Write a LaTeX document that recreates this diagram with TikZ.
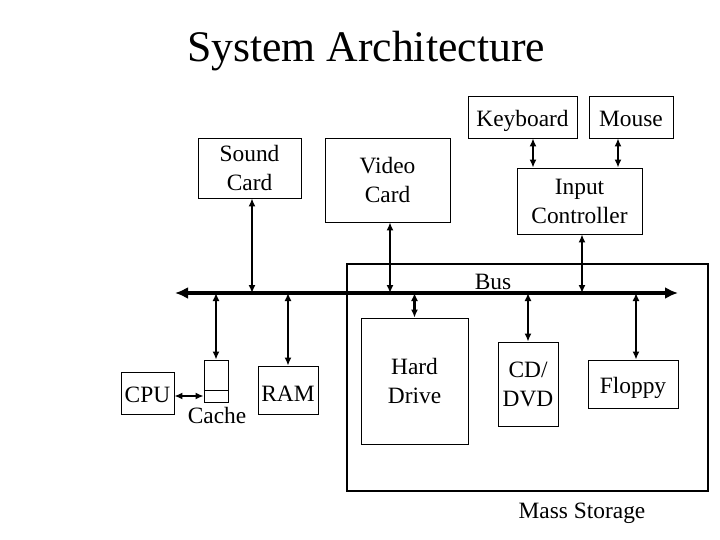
\documentclass[tikz,border=0pt]{standalone}
\usepackage{fontspec}
\setmainfont{Liberation Serif}
\usetikzlibrary{arrows.meta}

\begin{document}
\begin{tikzpicture}[x=1pt,y=-1pt,>={Latex[length=8pt,width=7pt]}]
    \tikzset{
        unit/.style={draw,line width=0.8pt,inner sep=0pt,align=center,font=\fontsize{23.4}{29}\selectfont},
        oneline/.style={text height=19pt,text depth=0pt},
        lbl/.style={font=\fontsize{23.4}{29}\selectfont,inner sep=0pt},
        link/.style={<->,line width=2.4pt},
        busline/.style={{Latex[length=13pt,width=12pt]}-{Latex[length=13pt,width=12pt]},line width=4.5pt}
    }
    \useasboundingbox (0,0) rectangle (720,540);

    \node[font=\fontsize{43.7}{50}\selectfont,anchor=base] (title) at (366,62) {System Architecture};

    % input side
    \node[unit,oneline,minimum width=109pt,minimum height=42pt] (kbd) at (522.5,117) {Keyboard};
    \node[unit,oneline,minimum width=84pt,minimum height=42pt] (mouse) at (631,117) {Mouse};
    \node[unit,minimum width=125pt,minimum height=66pt] (ictl) at (579.5,201) {Input\\Controller};
    \node[unit,minimum width=125pt,minimum height=84pt] (video) at (387.5,180) {Video\\Card};
    \node[unit,minimum width=103pt,minimum height=60pt] (sound) at (249.5,168) {Sound\\Card};

    % mass storage
    \node[draw,line width=2pt,minimum width=361pt,minimum height=227pt,inner sep=0pt] (ms) at (527.5,377.5) {};
    \node[lbl] (mslbl) at (582,513) {Mass Storage};
    \node[unit,minimum width=107pt,minimum height=126pt] (hd) at (414.5,381) {Hard\\Drive};
    \node[unit,minimum width=60pt,minimum height=84pt] (cd) at (528,384) {CD/\\DVD};
    \node[unit,oneline,minimum width=90pt,minimum height=48pt] (floppy) at (633,384) {Floppy};

    % processor and memory
    \node[unit,oneline,minimum width=53pt,minimum height=42pt] (cpu) at (147.5,393) {CPU};
    \node[unit,minimum width=24pt,minimum height=42pt] (cache) at (216,381) {};
    \draw[line width=0.8pt] (cache.west |- 0,390) -- (cache.east |- 0,390);
    \node[lbl] (cachelbl) at (217,415) {Cache};
    \node[unit,oneline,minimum width=60pt,minimum height=48pt,text height=22pt] (ram) at (288,390) {RAM};

    % bus
    \coordinate (busL) at (175,293);
    \coordinate (busR) at (678,293);
    \draw[busline] (busL) -- (busR);
    \node[lbl] (buslbl) at (493,282) {Bus};

    \draw[link] ([xshift=2.5pt]sound.south) -- ([xshift=2.5pt]sound.south |- busL);
    \draw[link] ([xshift=2.5pt]video.south) -- ([xshift=2.5pt]video.south |- busL);
    \draw[link] ([xshift=2.5pt]ictl.south) -- ([xshift=2.5pt]ictl.south |- busL);
    \draw[link] ([xshift=10.5pt]kbd.south) -- ([xshift=10.5pt]kbd.south |- ictl.north);
    \draw[link] ([xshift=-13pt]mouse.south) -- ([xshift=-13pt]mouse.south |- ictl.north);
    \draw[link] (hd |- busL) -- (hd);
    \draw[link] (cd |- busL) -- (cd);
    \draw[link] ([xshift=3pt]floppy.north |- busL) -- ([xshift=3pt]floppy.north);
    \draw[link] (cache |- busL) -- (cache);
    \draw[link] (ram |- busL) -- (ram);
    \draw[link] ([yshift=-3pt]cpu.east) -- ([yshift=-3pt]cpu.east -| cache.west);
\end{tikzpicture}
\end{document}
